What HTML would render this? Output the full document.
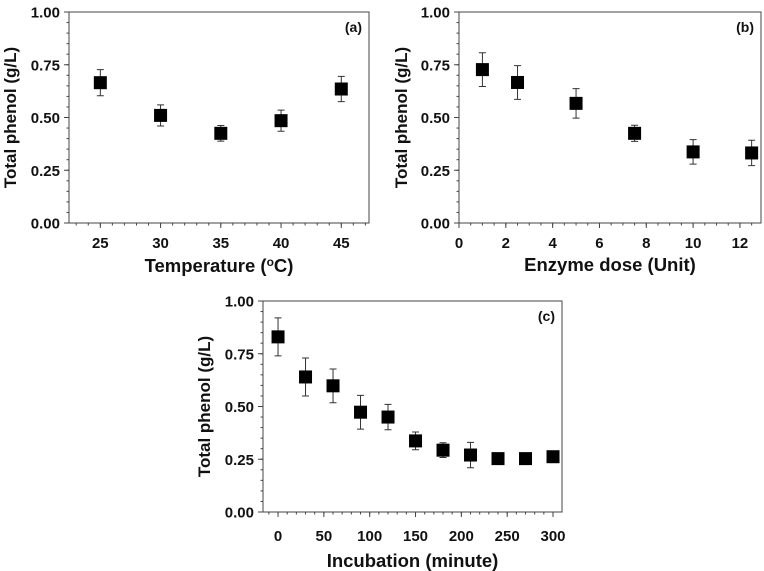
<!DOCTYPE html>
<html><head><meta charset="utf-8"><style>
html,body{margin:0;padding:0;background:#fff;}
svg{display:block;font-family:"Liberation Sans",Arial,sans-serif;font-weight:bold;}
</style></head><body>
<svg id="fig" width="764" height="571" viewBox="0 0 764 571" xmlns="http://www.w3.org/2000/svg"></svg>
<script>
const aX=[25,30,35,40,45];
const aY=[0.665,0.51,0.425,0.485,0.635];
const aE=[0.062,0.05,0.037,0.05,0.06];
const aTicks=[25,30,35,40,45];
const bX=[1,2.5,5,7.5,10,12.5];
const bY=[0.727,0.666,0.567,0.425,0.337,0.332];
const bE=[0.08,0.08,0.07,0.038,0.058,0.06];
const bTicks=[0,2,4,6,8,10,12];
const cX=[0,30,60,90,120,150,180,210,240,270,300];
const cY=[0.83,0.64,0.598,0.473,0.45,0.337,0.293,0.27,0.253,0.253,0.262];
const cE=[0.09,0.09,0.08,0.08,0.06,0.042,0.035,0.06,0.01,0.005,0.005];
const cTicks=[0,50,100,150,200,250,300];
const yTicks=[0,0.25,0.5,0.75,1.0];

const NS="http://www.w3.org/2000/svg";
const svg=document.getElementById('fig');
function mk(tag,attrs,parent){const e=document.createElementNS(NS,tag);for(const k in attrs)e.setAttribute(k,attrs[k]);(parent||svg).appendChild(e);return e;}

function panel(p){
  const g=mk('g',{});
  
  
  const sx=v=>p.L+(v-p.xmin)/(p.xmax-p.xmin)*(p.R-p.L);
  const sy=v=>p.B-v*(p.B-p.T);
  const frame=mk('rect',{x:p.L,y:p.T,width:p.R-p.L,height:p.B-p.T,fill:'none',stroke:'#444','stroke-width':1},g);
  
  
  for(let v=Math.ceil(p.xmin/p.minor)*p.minor;v<=p.xmax;v+=p.minor){
    mk('line',{x1:sx(v),x2:sx(v),y1:p.B,y2:p.B+2.5,stroke:'#444','stroke-width':1},g);
  }
  p.ticks.forEach(t=>{
    mk('line',{x1:sx(t),x2:sx(t),y1:p.B,y2:p.B+5,stroke:'#444','stroke-width':1},g);
    const tx=mk('text',{x:sx(t),y:p.B+p.tlOff,'text-anchor':'middle','font-size':15,fill:'#111'},g);
    tx.textContent=t;
    
    
  });
  for(let v=0;v<=1.0001;v+=0.05){
    mk('line',{x1:p.L,x2:p.L-2.5,y1:sy(v),y2:sy(v),stroke:'#444','stroke-width':1},g);
  }
  yTicks.forEach(t=>{
    mk('line',{x1:p.L,x2:p.L-5,y1:sy(t),y2:sy(t),stroke:'#444','stroke-width':1},g);
    const tx=mk('text',{x:p.L-9,y:sy(t)+5.5,'text-anchor':'end','font-size':15,fill:'#111'},g);
    tx.textContent=t.toFixed(2);
    
    
  });
  const xt=mk('text',{x:(p.L+p.R)/2,y:p.xtY,'text-anchor':'middle','font-size':18.5,fill:'#111'},g);
  xt.innerHTML=p.xtitle;
  
  
  const yc=(p.T+p.B)/2;
  const yt=mk('text',{x:p.ytX,y:yc,'text-anchor':'middle','font-size':17,fill:'#111',transform:`rotate(-90 ${p.ytX} ${yc})`},g);
  yt.textContent='Total phenol (g/L)';
  
  
  const lb=mk('text',{x:p.R-7,y:p.T+20,'text-anchor':'end','font-size':14,fill:'#111'},g);
  lb.textContent=p.label;
  
  
  p.xs.forEach((x,i)=>{
    const cx=sx(x),cy=sy(p.ys[i]),e=p.es[i];
    const eb=mk('path',{d:`M${cx} ${sy(p.ys[i]+e)}V${sy(p.ys[i]-e)}M${cx-3.5} ${sy(p.ys[i]+e)}H${cx+3.5}M${cx-3.5} ${sy(p.ys[i]-e)}H${cx+3.5}`,stroke:'#333','stroke-width':1,fill:'none'},g);
    
    
    const m=mk('rect',{x:cx-6.5,y:cy-6.5,width:13,height:13,fill:'#000'},g);
    
    
  });
}
panel({name:'panel-a',L:69,R:369,T:12,B:223,xmin:22.4,xmax:47.3,minor:1,ticks:aTicks,xs:aX,ys:aY,es:aE,tlOff:25,xtY:272,ytX:16,xtitle:'Temperature (<tspan font-size="12" dy="-6">o</tspan><tspan dy="6">C)</tspan>',label:'(a)'});
panel({name:'panel-b',L:459,R:761,T:12,B:223,xmin:0,xmax:12.9,minor:0.5,ticks:bTicks,xs:bX,ys:bY,es:bE,tlOff:25,xtY:271,ytX:407,xtitle:'Enzyme dose (Unit)',label:'(b)'});
panel({name:'panel-c',L:263,R:562,T:301,B:512,xmin:-16.4,xmax:309.8,minor:10,ticks:cTicks,xs:cX,ys:cY,es:cE,tlOff:29,xtY:567,ytX:210,xtitle:'Incubation (minute)',label:'(c)'});
</script>
</body></html>
